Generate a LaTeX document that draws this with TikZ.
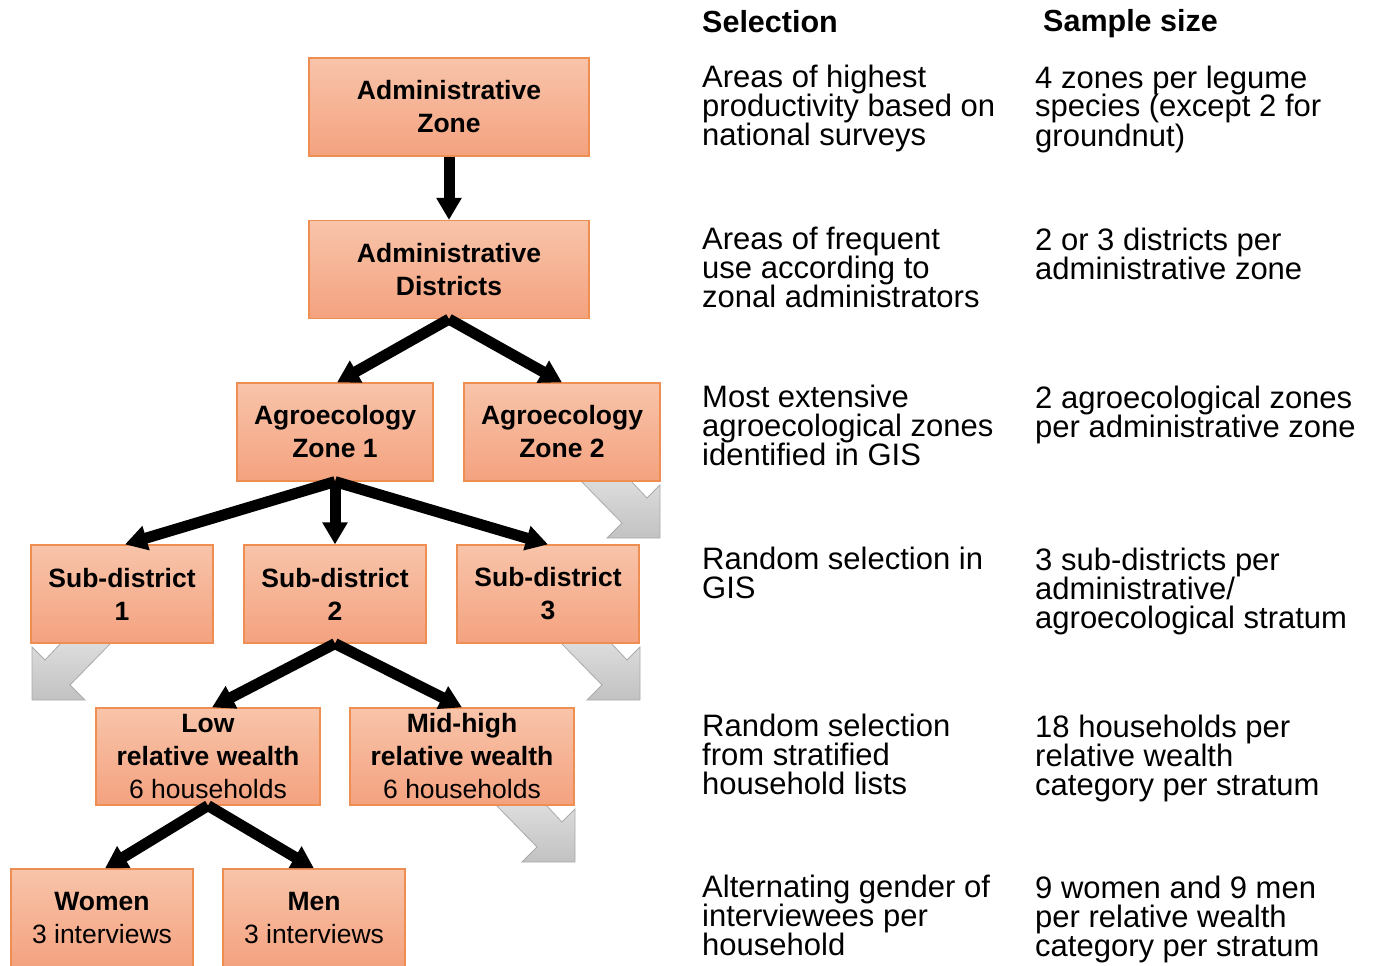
\documentclass[tikz,border=0pt]{standalone}
\usepackage{fontspec}
\setmainfont{Liberation Sans}
\usetikzlibrary{arrows.meta}

\definecolor{boxtop}{HTML}{F8C4AA}
\definecolor{boxbot}{HTML}{F4A27F}
\definecolor{boxline}{HTML}{EF8E52}
\definecolor{greytop}{HTML}{DCDCDC}
\definecolor{greybot}{HTML}{C2C2C2}
\definecolor{greyline}{HTML}{AAAAAA}

\tikzset{
  stepbox/.style={draw=boxline, line width=1.2pt, top color=boxtop, bottom color=boxbot,
    minimum width=280pt, minimum height=98pt, align=center, inner sep=0pt,
    font=\fontsize{26.5}{33}\selectfont},
  flow/.style={line width=11pt, -{Triangle[length=22pt,width=24pt]}},
  info/.style={anchor=base west, align=left, inner sep=0pt, font=\fontsize{31}{29}\selectfont},
  colhead/.style={anchor=base west, inner sep=0pt, font=\bfseries\fontsize{30.5}{30}\selectfont},
  greyarrow/.pic={
    \path[draw=greyline, line width=0.8pt, top color=greytop, bottom color=greybot]
      (0,0) -- (0,-53) -- (-13,-40) -- (-29,-57) -- (-79,-57) -- (-38,-15) -- (-53,0) -- cycle;
  }
}

\begin{document}
\begin{tikzpicture}[x=1pt,y=-1pt]
\useasboundingbox (0,0) rectangle (1374,966);

% grey arrows (behind boxes)
\pic at (660,538) {greyarrow};
\pic at (640,700) {greyarrow};
\pic[xscale=-1] at (32,700) {greyarrow};
\pic at (575,862) {greyarrow};

% boxes
\node[stepbox] (zone) at (449,107) {\textbf{Administrative}\\\textbf{Zone}};
\node[stepbox] (dist) at (449,269.5) {\textbf{Administrative}\\\textbf{Districts}};
\node[stepbox, minimum width=196pt] (az1) at (335,432) {\textbf{Agroecology}\\\textbf{Zone 1}};
\node[stepbox, minimum width=196pt] (az2) at (562,432) {\textbf{Agroecology}\\\textbf{Zone 2}};
\node[stepbox, minimum width=182pt] (sd1) at (122,594) {\textbf{Sub-district}\\\textbf{1}};
\node[stepbox, minimum width=182pt] (sd2) at (335,594) {\textbf{Sub-district}\\\textbf{2}};
\node[stepbox, minimum width=182pt] (sd3) at (548,594) {\textbf{Sub-district}\\\textbf{3}};
\node[stepbox, minimum width=224pt, minimum height=97pt] (low) at (208,756.5) {\textbf{Low}\\\textbf{relative wealth}\\6 households};
\node[stepbox, minimum width=224pt, minimum height=97pt] (mid) at (462,756.5) {\textbf{Mid-high}\\\textbf{relative wealth}\\6 households};
\node[stepbox, minimum width=182pt] (women) at (102,918) {\textbf{Women}\\3 interviews};
\node[stepbox, minimum width=182pt] (men) at (314,918) {\textbf{Men}\\3 interviews};

% black arrows
\draw[flow] (zone.south) -- (dist.north);
\draw[flow] (dist.south) -- ([xshift=2pt]az1.north);
\draw[flow] (dist.south) -- (az2.north);
\draw[flow] (az1.south) -- ([xshift=3pt]sd1.north);
\draw[flow] (az1.south) -- (sd2.north);
\draw[flow] (az1.south) -- (sd3.north);
\draw[flow] (sd2.south) -- ([xshift=4pt]low.north);
\draw[flow] (sd2.south) -- (mid.north);
\draw[flow] (low.south) -- ([xshift=3pt]women.north);
\draw[flow] (low.south) -- (men.north);

% column headings
\node[colhead] (hsel) at (702,33) {Selection};
\node[colhead] (hsam) at (1043,32) {Sample size};

% selection texts (anchored at baseline of last line)
\node[info] (s1) at (702,145) {Areas of highest\\productivity based on\\national surveys};
\node[info] (s2) at (702,307) {Areas of frequent\\use according to\\zonal administrators};
\node[info] (s3) at (702,465) {Most extensive\\agroecological zones\\identified in GIS};
\node[info] (s4) at (702,598) {Random selection in\\GIS};
\node[info] (s5) at (702,794) {Random selection\\from stratified\\household lists};
\node[info] (s6) at (702,955) {Alternating gender of\\interviewees per\\household};

% sample size texts
\node[info] (n1) at (1035,146) {4 zones per legume\\species (except 2 for\\groundnut)};
\node[info] (n2) at (1035,279) {2 or 3 districts per\\administrative zone};
\node[info] (n3) at (1035,437) {2 agroecological zones\\per administrative zone};
\node[info] (n4) at (1035,628) {3 sub-districts per\\administrative/\\agroecological stratum};
\node[info] (n5) at (1035,795) {18 households per\\relative wealth\\category per stratum};
\node[info] (n6) at (1035,956) {9 women and 9 men\\per relative wealth\\category per stratum};
\end{tikzpicture}
\end{document}
